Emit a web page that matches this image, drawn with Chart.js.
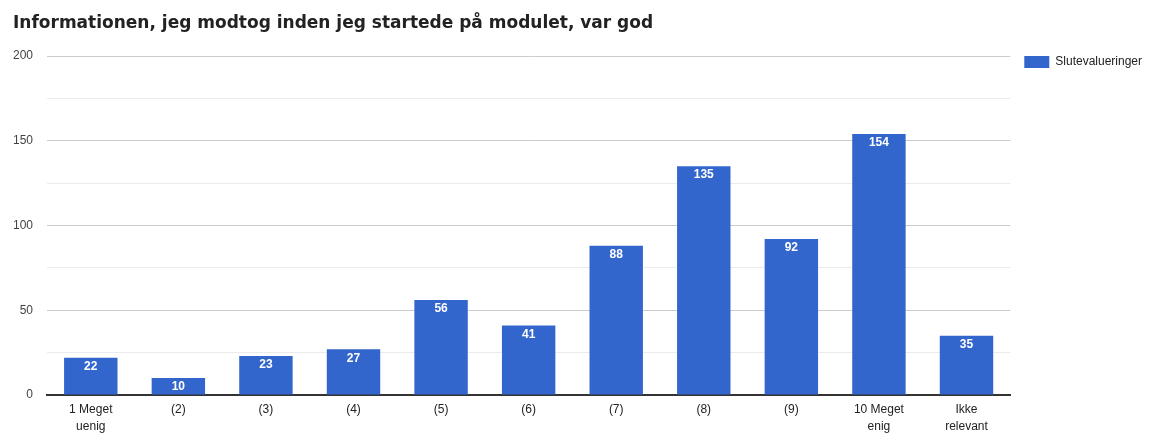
<!DOCTYPE html>
<html>
<head>
<meta charset="utf-8">
<script src="https://cdn.jsdelivr.net/npm/chart.js@4.4.1/dist/chart.umd.min.js"></script>
<style>
  html, body { margin: 0; padding: 0; background: #fff; }
  #wrap { width: 1158px; height: 435px; }
</style>
</head>
<body>
<div id="wrap"><canvas id="chart" width="1158" height="435"></canvas></div>
<script>
// Data
const categories = [
    ['1 Meget', 'uenig'], '(2)', '(3)', '(4)', '(5)', '(6)', '(7)', '(8)', '(9)',
    ['10 Meget', 'enig'], ['Ikke', 'relevant']
];
const seriesName = 'Slutevalueringer';
const values = [22, 10, 23, 27, 56, 41, 88, 135, 92, 154, 35];
const yTicks = [0, 50, 100, 150, 200];

const barBlue = '#3366cc';
const labelFont = '"Liberation Sans", Arial, sans-serif';

// white value labels drawn just inside the top of each bar
const barLabels = {
    id: 'barLabels',
    afterDatasetsDraw(chart) {
        const ctx = chart.ctx;
        const meta = chart.getDatasetMeta(0);
        ctx.save();
        ctx.font = 'bold 12px ' + labelFont;
        ctx.fillStyle = '#ffffff';
        ctx.textAlign = 'center';
        ctx.textBaseline = 'middle';
        meta.data.forEach((bar, i) => {
            ctx.fillText(String(values[i]), bar.x, bar.y + 9);
        });
        ctx.restore();
    }
};

new Chart(document.getElementById('chart').getContext('2d'), {
    type: 'bar',
    data: {
        labels: categories,
        datasets: [{
            label: seriesName,
            data: values,
            backgroundColor: barBlue,
            borderWidth: 0,
            categoryPercentage: 1,
            barPercentage: 0.61
        }]
    },
    options: {
        responsive: false,
        animation: false,
        layout: { padding: { left: 13, right: 6, top: 0, bottom: 0 } },
        plugins: {
            title: {
                display: true,
                text: 'Informationen, jeg modtog inden jeg startede på modulet, var god',
                align: 'start',
                color: '#222',
                font: { family: '"DejaVu Sans", sans-serif', size: 17, weight: 'bold' },
                padding: { top: 13, bottom: 22.6 }
            },
            legend: {
                position: 'right',
                align: 'start',
                // blank legend title only pushes the entry down to the plot top
                title: { display: true, text: ' ', font: { size: 10, lineHeight: 1 }, padding: { top: 32, bottom: 0 } },
                labels: {
                    boxWidth: 25,
                    boxHeight: 12,
                    color: '#222',
                    padding: 14,
                    font: { family: labelFont, size: 12 }
                }
            },
            tooltip: { enabled: false }
        },
        scales: {
            x: {
                grid: { display: false, drawTicks: false },
                border: { display: true, color: '#333', width: 2 },
                ticks: {
                    color: '#222',
                    padding: 6,
                    maxRotation: 0,
                    font: { family: labelFont, size: 12, lineHeight: 1.4 }
                },
                afterFit: s => { s.height = 40; }
            },
            y: {
                min: 0,
                max: 200,
                border: { display: false },
                grid: {
                    drawTicks: false,
                    color: c => (c.tick && c.tick.value % 50 === 0) ? '#cccccc' : '#ebebeb'
                },
                ticks: {
                    stepSize: 25,
                    padding: 14,
                    color: '#444',
                    font: { family: labelFont, size: 12 },
                    callback: v => yTicks.includes(v) ? String(v) : ''
                },
                afterFit: s => { s.width = 34; }
            }
        }
    },
    plugins: [barLabels]
});
</script>
</body>
</html>
